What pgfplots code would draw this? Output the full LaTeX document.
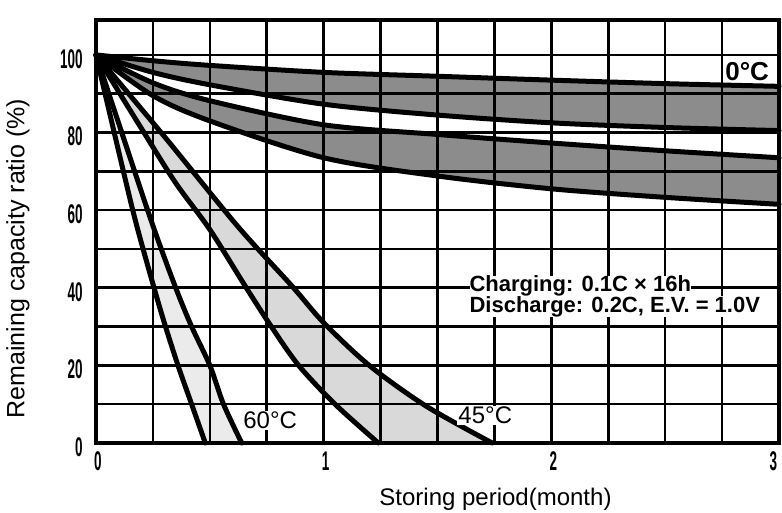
\documentclass[border=0pt]{standalone}
\usepackage{fontspec}
\setmainfont{Liberation Sans}
\usepackage{pgfplots}
\pgfplotsset{compat=1.18}
\usepgfplotslibrary{fillbetween}
\usetikzlibrary{calc}

\tikzset{
    curve/.style={black, line width=5pt, smooth, line join=round, line cap=round},
    lbl/.style={fill=white, inner sep=1pt, font=\fontsize{24}{24}\selectfont},
}

\begin{document}
\begin{tikzpicture}
\begin{axis}[
    scale only axis, width=683pt, height=423pt,
    xmin=0, xmax=3, ymin=0, ymax=109,
    xtick={0,1,2,3}, minor xtick={0.25,0.5,...,2.75},
    xticklabels={0,1,2,{\llap{3}\phantom{3}}},
    ytick={0,20,...,100}, minor ytick={10,30,...,90},
    grid=both,
    major grid style={black, line width=2.6pt},
    minor grid style={black, line width=2.6pt},
    axis line style={black, line width=3.5pt},
    major tick length=0pt, minor tick length=0pt,
    /pgf/number format/assume math mode=true,
    tick label style={font=\fontsize{27}{27}\selectfont\bfseries, xscale=0.5},
    yticklabel style={anchor=east, xshift=-23pt, yshift=-4pt},
    xticklabel style={anchor=north, xshift=4pt, yshift=-5pt},
    clip=false,
]
% 0 C band
\addplot[curve, name path=c0u] coordinates {(0,100)(0.25,98.5)(0.5,97.3)(1,95.5)(1.5,94.5)(2,93.5)(2.5,92.6)(3,91.9)};
\addplot[curve, name path=c0l] coordinates {(0,100)(0.25,95.5)(0.5,92.3)(1,87.3)(1.5,84.5)(2,82.5)(2.5,81.3)(3,80.5)};
% 20 C band
\addplot[curve, name path=c20u] coordinates {(0,100)(0.25,92.8)(0.5,88.2)(1,82)(1.5,79.5)(2,77.3)(2.5,75.3)(3,73.5)};
\addplot[curve, name path=c20l] coordinates {(0,100)(0.25,89.5)(0.5,83)(1,73.5)(1.5,68.8)(2,65.5)(2.5,63.3)(3,61.5)};
% 45 C band
\addplot[curve, name path=c45l] coordinates {(0,100)(0.2,81)(0.35,67)(0.5,55)(0.66,40)(0.77,30)(0.89,20)(1.05,10)(1.24,0)};
\addplot[curve, name path=c45r] coordinates {(0,100)(0.3,79)(0.62,56)(0.86,40.5)(1.0,31)(1.2,20)(1.45,9.5)(1.74,0)};
% 60 C band
\addplot[curve, name path=c60l] coordinates {(0,100)(0.08,80)(0.17,58)(0.25,41)(0.3,31)(0.36,20)(0.42,10)(0.48,0)};
\addplot[curve, name path=c60r] coordinates {(0,100)(0.13,77)(0.25,56)(0.35,40)(0.42,30)(0.5,20)(0.56,10)(0.64,0)};

\addplot[fill=black, fill opacity=0.45] fill between[of=c0u and c0l];
\addplot[fill=black, fill opacity=0.45] fill between[of=c20u and c20l];
\addplot[fill=black, fill opacity=0.15] fill between[of=c45l and c45r];
\addplot[fill=black, fill opacity=0.08] fill between[of=c60l and c60r];

\node[lbl, font=\fontsize{26}{26}\selectfont\bfseries] at (axis cs:2.86,95.6) {0°C};
\node[lbl] at (axis cs:0.765,5.8) {60°C};
\node[lbl] at (axis cs:1.71,7.2) {45°C};
\node[lbl, anchor=west, inner sep=0pt, font=\fontsize{22}{22}\selectfont\bfseries] at (axis cs:1.64,40.5) {Charging: 0.1C × 16h};
\node[lbl, anchor=west, inner sep=0pt, font=\fontsize{22}{22}\selectfont\bfseries] at (axis cs:1.64,35.1) {Discharge: 0.2C, E.V. = 1.0V};

\node[rotate=90, font=\fontsize{25}{25}\selectfont] at ($(rel axis cs:0,0.5)+(-78pt,-27pt)$) {Remaining capacity ratio (\%)};
\node[font=\fontsize{24}{24}\selectfont] at ($(rel axis cs:0.5,0)+(58pt,-56pt)$) {Storing period(month)};

\coordinate (bl) at (rel axis cs:0,0);
\coordinate (tr) at (rel axis cs:1,1);
\end{axis}
\pgfresetboundingbox
\path[use as bounding box] ($(bl)+(-96pt,-70pt)$) rectangle ($(tr)+(3pt,20pt)$);
\end{tikzpicture}
\end{document}
